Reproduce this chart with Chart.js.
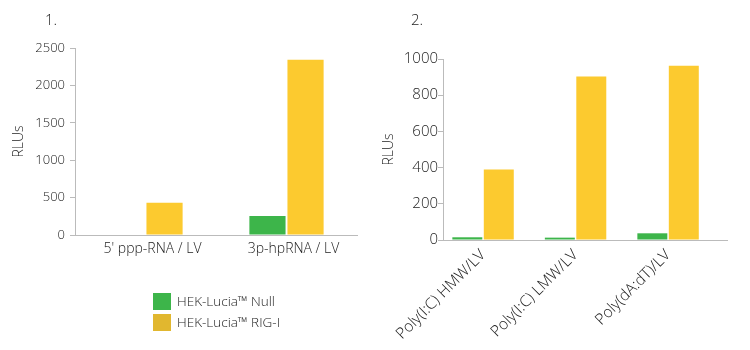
<!DOCTYPE html>
<html>
<head>
<meta charset="utf-8">
<script src="https://cdn.jsdelivr.net/npm/chart.js@4.4.1/dist/chart.umd.min.js"></script>
<style>
  body { margin: 0; width: 750px; height: 350px; position: relative; background: #fff;
         font-family: "Open Sans", "Noto Sans", sans-serif; font-weight: 300; color: #222; overflow: hidden; }
  .num { position: absolute; top: 9px; font-size: 15px; color: #222;
         -webkit-font-smoothing: antialiased; transform: translateZ(0); }
  #c1 { position: absolute; left: 0; top: 0; }
  #c2 { position: absolute; left: 370px; top: 0; }
  #legend { position: absolute; left: 153px; top: 293px; font-size: 13.5px; }
  #legend div { height: 21px; display: flex; align-items: flex-start; }
  #legend span.sw { display: inline-block; width: 18px; height: 17px; margin-right: 6px; }
  #legend span.tx { line-height: 17px; }
</style>
</head>
<body>
<div class="num" style="left:45px">1.</div>
<div class="num" style="left:411px">2.</div>
<canvas id="c1" width="370" height="350"></canvas>
<canvas id="c2" width="380" height="350"></canvas>
<div id="legend"></div>
<script>
// panel 1
const labels1 = ["5' ppp-RNA / LV", "3p-hpRNA / LV"];
const nullValues1 = [0, 255];
const rigiValues1 = [432, 2343];
const yTicks1 = [0, 500, 1000, 1500, 2000, 2500];

// panel 2
const labels2 = ["Poly(I:C) HMW/LV", "Poly(I:C) LMW/LV", "Poly(dA:dT)/LV"];
const nullValues2 = [15, 13, 37];
const rigiValues2 = [390, 904, 963];
const yTicks2 = [0, 200, 400, 600, 800, 1000];

const seriesNames = ["HEK-Lucia™ Null", "HEK-Lucia™ RIG-I"];
const barColors = ["#3db54a", "#fcca2f"];
const swatchColors = ["#3db54a", "#e1b72f"];

Chart.defaults.font.family = '"Open Sans", "Noto Sans", sans-serif';
Chart.defaults.font.weight = 300;
Chart.defaults.color = "#222";

const axisGray = "#bbbbbb";

function yAxis(ticks, width, pad, size) {
  return {
    min: ticks[0],
    max: ticks[ticks.length - 1],
    afterBuildTicks: s => { s.ticks = ticks.map(v => ({ value: v })); },
    afterFit: s => { s.width = width; },
    border: { color: axisGray },
    grid: { drawOnChartArea: false, tickLength: 5, color: axisGray },
    ticks: { padding: pad, font: { size: size }, callback: v => String(v) },
    title: { display: true, text: "RLUs", font: { size: 14 }, padding: { top: 11, bottom: 0 } }
  };
}

new Chart(document.getElementById("c1"), {
  type: "bar",
  data: {
    labels: labels1,
    datasets: [
      { label: seriesNames[0], data: nullValues1, backgroundColor: barColors[0] },
      { label: seriesNames[1], data: rigiValues1, backgroundColor: barColors[1] }
    ]
  },
  options: {
    responsive: false,
    animation: false,
    layout: { padding: { left: 0, top: 48, right: 13, bottom: 85 } },
    datasets: { bar: { categoryPercentage: 0.54, barPercentage: 0.95 } },
    plugins: { legend: { display: false }, tooltip: { enabled: false } },
    scales: {
      x: {
        afterFit: s => { s.height = 30; },
        border: { color: axisGray },
        grid: { display: false, drawTicks: false },
        ticks: { padding: 6, labelOffset: 7, font: { size: 14 } }
      },
      y: yAxis(yTicks1, 75, 5, 13)
    }
  }
});

// linear index axis so the three groups sit where they do along the axis line
new Chart(document.getElementById("c2"), {
  type: "bar",
  data: {
    datasets: [
      { label: seriesNames[0], data: nullValues2.map((v, i) => ({ x: i + 1, y: v })), backgroundColor: barColors[0] },
      { label: seriesNames[1], data: rigiValues2.map((v, i) => ({ x: i + 1, y: v })), backgroundColor: barColors[1] }
    ]
  },
  options: {
    responsive: false,
    animation: false,
    layout: { padding: { left: 0, top: 59, right: 23, bottom: 0 } },
    datasets: { bar: { categoryPercentage: 0.68, barPercentage: 0.953 } },
    plugins: { legend: { display: false }, tooltip: { enabled: false } },
    scales: {
      x: {
        type: "linear",
        min: 0.567,
        max: 3.637,
        offset: false,
        afterBuildTicks: s => { s.ticks = labels2.map((l, i) => ({ value: i + 1 })); },
        afterFit: s => { s.height = 110; },
        border: { color: axisGray },
        grid: { display: false, drawTicks: false },
        ticks: {
          padding: 6,
          minRotation: 45,
          maxRotation: 45,
          autoSkip: false,
          font: { size: 15.5 },
          callback: v => labels2[Math.round(v) - 1]
        }
      },
      y: yAxis(yTicks2, 73, 0, 15)
    }
  }
});

const legend = document.getElementById("legend");
seriesNames.forEach((name, i) => {
  const row = document.createElement("div");
  row.innerHTML = '<span class="sw" style="background:' + swatchColors[i] + '"></span><span class="tx">' + name + '</span>';
  legend.appendChild(row);
});
</script>
</body>
</html>
